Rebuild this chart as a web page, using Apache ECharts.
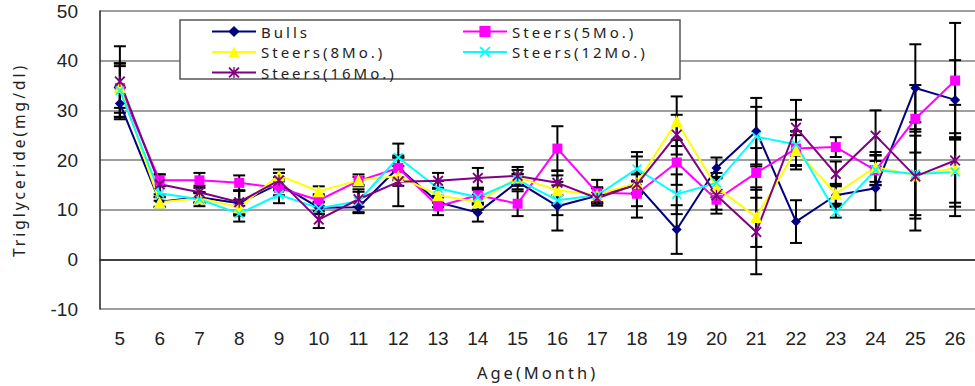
<!DOCTYPE html>
<html>
<head>
<meta charset="utf-8">
<script src="https://cdn.jsdelivr.net/npm/echarts@6/dist/echarts.min.js"></script>
<style>
    html, body { margin: 0; padding: 0; background: #fff; }
    #chart { width: 975px; height: 386px; }
    #chart text[style*="Noto Sans"], #chart text[font-family*="Noto Sans"] { letter-spacing: 3px; }
</style>
</head>
<body>
<div id="chart"></div>
<script>
const categories = ['5', '6', '7', '8', '9', '10', '11', '12', '13', '14', '15', '16', '17', '18', '19', '20', '21', '22', '23', '24', '25', '26']
const yTicks = { min: -10, max: 50, interval: 10 }

// means and error half-widths
const bulls = [31.4, 11.6, 12.5, 11.3, 15.2, 10.4, 10.5, 18.5, 11.5, 9.4, 15.6, 10.7, 12.8, 15.0, 6.0, 18.4, 25.8, 7.6, 12.9, 14.3, 34.5, 32.1]
const bullsErr = [3.2, 1.0, 1.0, 2.5, 1.3, 1.2, 1.0, 2.0, 1.0, 1.8, 1.5, 4.9, 1.5, 6.6, 4.9, 2.1, 6.7, 4.3, 2.0, 4.4, 8.8, 8.0]
const steers5 = [34.5, 15.9, 15.9, 15.4, 14.4, 11.9, 15.8, 18.4, 10.7, 12.9, 11.2, 22.3, 13.4, 13.2, 19.5, 12.0, 17.4, 22.3, 22.6, 17.9, 28.3, 36.0]
const steers5Err = [5.0, 1.2, 1.5, 1.5, 1.5, 1.2, 0.8, 2.5, 1.8, 1.5, 2.5, 4.5, 2.6, 2.5, 4.5, 2.0, 5.0, 3.5, 2.0, 3.0, 6.8, 11.6]
const steers8 = [34.7, 11.5, 12.3, 10.5, 16.9, 13.7, 15.9, 16.8, 12.9, 11.5, 16.5, 13.9, 13.0, 15.4, 27.8, 14.5, 8.5, 22.0, 13.2, 18.6, 16.9, 18.4]
const steers8Err = [4.2, 1.0, 1.0, 1.5, 1.2, 1.0, 1.2, 2.0, 1.5, 1.5, 1.5, 3.0, 1.5, 2.0, 5.0, 2.0, 6.0, 3.0, 2.0, 3.0, 8.0, 7.0]
const steers12 = [34.0, 13.3, 12.1, 9.2, 13.0, 10.3, 11.7, 20.5, 14.3, 12.5, 16.0, 11.9, 12.9, 18.2, 13.1, 15.4, 24.7, 23.1, 9.5, 18.0, 17.2, 17.6]
const steers12Err = [5.4, 1.5, 1.4, 1.6, 1.7, 1.2, 2.4, 2.8, 1.5, 1.5, 1.2, 3.0, 1.5, 2.5, 4.0, 2.0, 6.0, 5.0, 1.1, 3.0, 9.0, 7.0]
const steers16 = [35.8, 15.1, 13.5, 11.5, 15.9, 8.0, 12.1, 15.6, 15.8, 16.4, 16.8, 15.4, 12.3, 15.1, 25.1, 12.9, 5.5, 26.5, 17.2, 24.9, 16.7, 19.9]
const steers16Err = [7.1, 2.0, 1.3, 2.3, 1.5, 1.7, 1.5, 4.9, 1.6, 2.0, 1.8, 2.5, 1.1, 2.0, 4.0, 3.7, 8.5, 5.6, 2.5, 5.1, 10.9, 11.2]

const xMark = 'path://M0,1.2 L1.2,0 L5,3.8 L8.8,0 L10,1.2 L6.2,5 L10,8.8 L8.8,10 L5,6.2 L1.2,10 L0,8.8 L3.8,5 Z'
const starMark = 'path://M0,1.2 L1.2,0 L5,3.8 L8.8,0 L10,1.2 L6.2,5 L10,8.8 L8.8,10 L5,6.2 L1.2,10 L0,8.8 L3.8,5 Z M4.4,0 L5.6,0 L5.6,10 L4.4,10 Z'

const groups = [
    { name: 'Bulls', data: bulls, err: bullsErr, color: '#000080', symbol: 'diamond', size: 10 },
    { name: 'Steers(5Mo.)', data: steers5, err: steers5Err, color: '#ff00ff', symbol: 'rect', size: 10 },
    { name: 'Steers(8Mo.)', data: steers8, err: steers8Err, color: '#ffff00', symbol: 'triangle', size: 12 },
    { name: 'Steers(12Mo.)', data: steers12, err: steers12Err, color: '#00ffff', symbol: xMark, size: 10 },
    { name: 'Steers(16Mo.)', data: steers16, err: steers16Err, color: '#800080', symbol: starMark, size: 11 }
]

function errorData(vals, errs) {
    return vals.map(function (v, i) { return [i, v - errs[i], v + errs[i]] })
}

function renderErrorBar(params, api) {
    let hi = api.coord([api.value(0), api.value(2)])
    let lo = api.coord([api.value(0), api.value(1)])
    let w = 6
    let st = { stroke: '#000', lineWidth: 2 }
    return {
        type: 'group',
        children: [
            { type: 'line', shape: { x1: hi[0], y1: hi[1], x2: lo[0], y2: lo[1] }, style: st },
            { type: 'line', shape: { x1: hi[0] - w, y1: hi[1], x2: hi[0] + w, y2: hi[1] }, style: st },
            { type: 'line', shape: { x1: lo[0] - w, y1: lo[1], x2: lo[0] + w, y2: lo[1] }, style: st }
        ]
    }
}

let series = []
groups.forEach(function (g) {
    series.push({
        type: 'custom',
        name: g.name + ' err',
        renderItem: renderErrorBar,
        encode: { x: 0, y: [1, 2] },
        data: errorData(g.data, g.err),
        z: 1,
        silent: true
    })
})
groups.forEach(function (g) {
    series.push({
        type: 'line',
        name: g.name,
        data: g.data,
        symbol: g.symbol,
        symbolSize: g.size,
        showAllSymbol: true,
        color: g.color,
        itemStyle: { color: g.color, opacity: 1 },
        lineStyle: { color: g.color, width: 2 },
        z: 2
    })
})

const legendText = { fontFamily: 'Noto Sans', fontSize: 15, color: '#222', lineHeight: 14 }

let draw = echarts.init(document.getElementById('chart'), null, { renderer: 'svg' })
draw.setOption({
    animation: false,
    backgroundColor: '#fff',
    grid: { left: 100, top: 11, width: 877, bottom: 77 },
    graphic: [{
        type: 'rect',
        z: 3,
        shape: { x: 180, y: 20, width: 500, height: 59 },
        style: { fill: '#fff', stroke: '#555', lineWidth: 1.5 }
    }],
    legend: [
        {
            data: ['Bulls', 'Steers(8Mo.)', 'Steers(16Mo.)'],
            orient: 'vertical', left: 211, top: 24, padding: 0,
            itemWidth: 44, itemHeight: 14, itemGap: 5.5,
            selectedMode: false, textStyle: legendText, z: 5
        },
        {
            data: ['Steers(5Mo.)', 'Steers(12Mo.)'],
            orient: 'vertical', left: 462, top: 24, padding: 0,
            itemWidth: 44, itemHeight: 14, itemGap: 5.5,
            selectedMode: false, textStyle: legendText, z: 5
        }
    ],
    xAxis: {
        type: 'category',
        data: categories,
        boundaryGap: true,
        name: 'Age(Month)',
        nameLocation: 'middle',
        nameGap: 55,
        nameTextStyle: { fontFamily: 'Noto Sans', fontSize: 16.5, color: '#222' },
        axisLine: { lineStyle: { color: '#222', width: 1.5 } },
        axisTick: { inside: true, length: 7, interval: 0, lineStyle: { color: '#222' } },
        axisLabel: { interval: 0, margin: 20, fontFamily: 'Liberation Sans', fontSize: 19, color: '#222' },
        splitLine: { show: false }
    },
    yAxis: {
        type: 'value',
        min: yTicks.min,
        max: yTicks.max,
        interval: yTicks.interval,
        name: 'Triglyceride(mg/dl)',
        nameLocation: 'middle',
        nameGap: 73,
        nameTextStyle: { fontFamily: 'Noto Sans', fontSize: 15.5, color: '#222' },
        axisLine: { show: true, lineStyle: { color: '#222', width: 1.5 } },
        axisTick: { show: false },
        axisLabel: { margin: 22, fontFamily: 'Liberation Sans', fontSize: 19, color: '#222' },
        splitLine: { lineStyle: { color: '#7f7f7f', width: 1.5 } }
    },
    series: series
})
</script>
</body>
</html>
